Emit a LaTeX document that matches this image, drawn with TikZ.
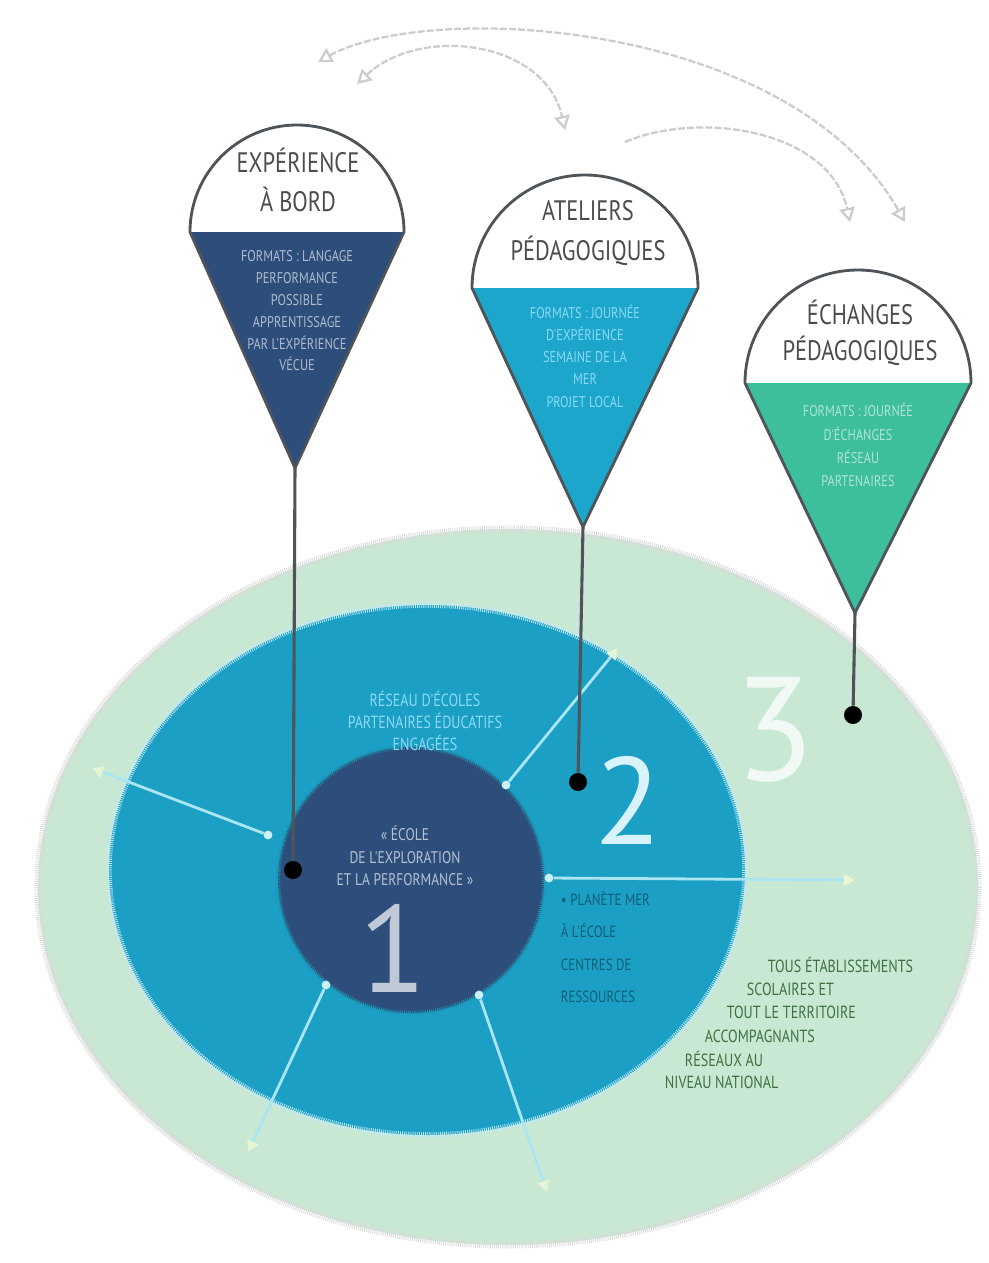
\documentclass[tikz,border=0pt]{standalone}
\usepackage{fontspec}
\setmainfont{PT Sans}
\newfontfamily\condfont[FakeStretch=0.8]{PT Sans}
\usetikzlibrary{%
  arrows.meta,%
  positioning,%
  calc%
}

\definecolor{navy}{HTML}{2D4E7B}
\definecolor{ringblue}{HTML}{1B9FC5}
\definecolor{mint}{HTML}{C9E8D3}
\definecolor{pinteal}{HTML}{3DBE9C}
\definecolor{pincyan}{HTML}{1DA6CB}
\definecolor{pinedge}{HTML}{4F5459}
\definecolor{headgrey}{HTML}{4A4C4E}
\definecolor{raycol}{HTML}{A9E6F2}
\definecolor{rayendcol}{HTML}{E6F5D3}

\begin{document}
\begin{tikzpicture}[x=0.025cm, y=-0.025cm,
  pinline/.style={draw=pinedge, line width=2pt, line join=round},
  stick/.style={draw=pinedge, line width=2.2pt},
  pindot/.style={circle, fill=black, inner sep=0pt, minimum size=0.45cm},
  ray/.style={draw=raycol, line width=2pt, -{Triangle[length=8pt,width=8pt,color=rayendcol]}},
  raydot/.style={circle, fill=raycol!60!white, inner sep=0pt, minimum size=0.22cm},
  swing/.style={draw=gray!40, line width=1.6pt, dash pattern=on 5pt off 1.5pt},
  heading/.style={font=\condfont\fontsize{20}{28}\selectfont, text=headgrey, align=center},
  pintext/.style={font=\condfont\fontsize{11}{15.5}\selectfont, align=center},
  ringtext/.style={font=\condfont\fontsize{12.5}{15}\selectfont},
  bignum/.style={font=\fontsize{88}{88}\selectfont, inner sep=0pt}
]

\fill [white] (0,0) rectangle (988,1263);
\useasboundingbox (0,0) rectangle (988,1263);

% -------- rings
\fill [mint] (508,887) ellipse [x radius=470, y radius=358];
\draw [gray!30, line width=5pt, dash pattern=on 0.6pt off 0.9pt] (508,887) ellipse [x radius=470, y radius=358];

\fill [ringblue] (427,870) ellipse [x radius=318, y radius=265];
\draw [cyan!25!white, line width=4pt, dash pattern=on 0.6pt off 0.9pt] (427,870) ellipse [x radius=318, y radius=265];

\fill [navy] (411,880) circle [radius=133];
\draw [navy!60!cyan, line width=3pt, dash pattern=on 0.6pt off 0.9pt] (411,880) circle [radius=133];

% -------- rays
\node [raydot] (rayA) at (268,835) {};
\node [raydot] (rayB) at (506,785) {};
\node [raydot] (rayC) at (549,878) {};
\node [raydot] (rayD) at (326,985) {};
\node [raydot] (rayE) at (479,995) {};
\coordinate (endA) at (92,768);
\coordinate (endB) at (618,648);
\coordinate (endC) at (855,880);
\coordinate (endD) at (248,1152);
\coordinate (endE) at (547,1192);
\draw [ray] (rayA) -- (endA);
\draw [ray] (rayB) -- (endB);
\draw [ray] (rayC) -- (endC);
\draw [ray] (rayD) -- (endD);
\draw [ray] (rayE) -- (endE);

% -------- numbers and ring texts
\node [bignum, text=white!70!navy] (numone) at (393,948) {1};
\node [bignum, text=cyan!15!white] (numtwo) at (628,800) {2};
\node [bignum, text=white!75!mint, font=\fontsize{105}{105}\selectfont] (numthree) at (775,730) {3};

\node [ringtext, text=white!65!navy, align=center, font=\condfont\fontsize{12}{16}\selectfont] (coretext) at (405,856)
  {« ÉCOLE\\DE L'EXPLORATION\\ET LA PERFORMANCE »};
\node [ringtext, text=cyan!45!white, align=center, font=\condfont\fontsize{12.5}{15.5}\selectfont] (ringtwotop) at (425,721)
  {RÉSEAU D'ÉCOLES\\PARTENAIRES ÉDUCATIFS\\ENGAGÉES};
\node [ringtext, text=ringblue!60!black, align=left, anchor=west,
  font=\condfont\fontsize{11.5}{23}\selectfont] (ringtworight) at (556,947)
  {\textbullet{} PLANÈTE MER\\À L'ÉCOLE\\CENTRES DE\\RESSOURCES};

\node [ringtext, text=green!25!black!75, anchor=west] (outerA) at (763,965) {TOUS ÉTABLISSEMENTS};
\node [ringtext, text=green!25!black!75, anchor=west] (outerB) at (742,989) {SCOLAIRES ET};
\node [ringtext, text=green!25!black!75, anchor=west] (outerC) at (722,1012) {TOUT LE TERRITOIRE};
\node [ringtext, text=green!25!black!75, anchor=west] (outerD) at (700,1036) {ACCOMPAGNANTS};
\node [ringtext, text=green!25!black!75, anchor=west] (outerE) at (680,1059) {RÉSEAUX AU};
\node [ringtext, text=green!25!black!75, anchor=west] (outerF) at (660,1082) {NIVEAU NATIONAL};

% -------- pin 1
\fill [white] (190,232) arc [start angle=180, end angle=360, radius=107] -- cycle;
\fill [navy] (190,232) -- (404,232) -- (295,468) -- cycle;
\draw [pinline] (190,232) arc [start angle=180, end angle=360, radius=107] -- (295,468) -- cycle;
\node [heading] (headone) at (298,180) {EXPÉRIENCE\\À BORD};
\node [pintext, text=white!62!navy] (bodyone) at (297,311)
  {FORMATS : LANGAGE\\PERFORMANCE\\POSSIBLE\\APPRENTISSAGE\\PAR L'EXPÉRIENCE\\VÉCUE};
\coordinate (tipone) at (295,468);
\node [pindot] (dotone) at (293,870) {};
\draw [stick] (tipone) -- (dotone);

% -------- pin 2
\fill [white] (472,288) arc [start angle=180, end angle=360, radius=113] -- cycle;
\fill [pincyan] (472,288) -- (698,288) -- (583,527) -- cycle;
\draw [pinline] (472,288) arc [start angle=180, end angle=360, radius=113] -- (583,527) -- cycle;
\node [heading] (headtwo) at (588,233) {ATELIERS\\PÉDAGOGIQUES};
\node [pintext, text=cyan!45!white, font=\condfont\fontsize{11}{15.8}\selectfont] (bodytwo) at (585,356)
  {FORMATS : JOURNÉE\\D'EXPÉRIENCE\\SEMAINE DE LA\\MER\\PROJET LOCAL};
\coordinate (tiptwo) at (583,527);
\node [pindot] (dottwo) at (578,782) {};
\draw [stick] (tiptwo) -- (dottwo);

% -------- pin 3
\fill [white] (745,383) arc [start angle=180, end angle=360, radius=113] -- cycle;
\fill [pinteal] (745,383) -- (971,383) -- (855,613) -- cycle;
\draw [pinline] (745,383) arc [start angle=180, end angle=360, radius=113] -- (855,613) -- cycle;
\node [heading, font=\condfont\fontsize{20}{26}\selectfont] (headthree) at (860,333) {ÉCHANGES\\PÉDAGOGIQUES};
\node [pintext, text=white!60!pinteal, font=\condfont\fontsize{11}{16.5}\selectfont] (bodythree) at (858,445)
  {FORMATS : JOURNÉE\\D'ÉCHANGES\\RÉSEAU\\PARTENAIRES};
\coordinate (tipthree) at (855,613);
\node [pindot] (dotthree) at (853,715) {};
\draw [stick] (tipthree) -- (dotthree);

% -------- swings between the pins
\coordinate (swingAleft) at (318,62);
\coordinate (swingAright) at (905,222);
\coordinate (swingBleft) at (357,84);
\coordinate (swingBright) at (565,130);
\coordinate (swingCleft) at (625,142);
\coordinate (swingCright) at (850,222);
\draw [swing, {Triangle[open,length=10pt,width=11pt]}-{Triangle[open,length=10pt,width=11pt]}]
  (swingAleft) .. controls (430,0) and (790,20) .. (swingAright);
\draw [swing, {Triangle[open,length=10pt,width=11pt]}-{Triangle[open,length=10pt,width=11pt]}]
  (swingBleft) .. controls (420,25) and (545,40) .. (swingBright);
\draw [swing, -{Triangle[open,length=10pt,width=11pt]}]
  (swingCleft) .. controls (700,110) and (830,130) .. (swingCright);

\end{tikzpicture}
\end{document}
